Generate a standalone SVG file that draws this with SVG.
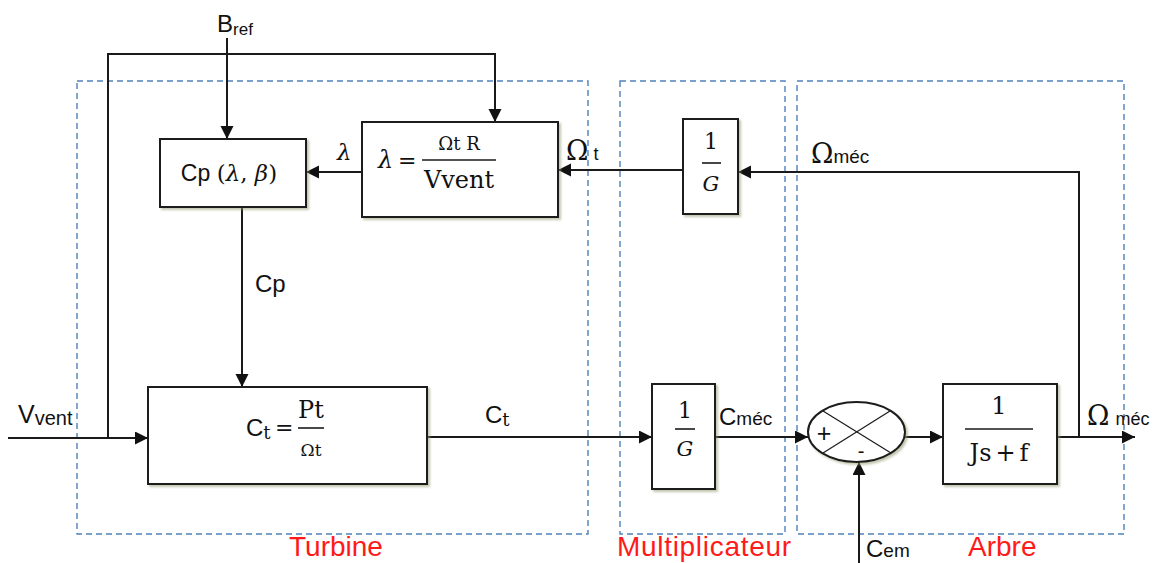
<svg xmlns="http://www.w3.org/2000/svg" width="1160" height="563" viewBox="0 0 1160 563">
<style>
.bg{fill:#ffffff}
.zone{fill:none;stroke:#4f81bd;stroke-width:1.4;stroke-dasharray:6 4}
.blk{fill:#ffffff;stroke:#1a1a1a;stroke-width:2;filter:url(#sh)}
.ln{fill:none;stroke:#1a1a1a;stroke-width:2}
.thin{fill:none;stroke:#1a1a1a;stroke-width:1.2}
.fr{stroke:#1a1a1a;stroke-width:1.6}
.sans{font-family:"Liberation Sans",Arial,sans-serif;fill:#111}
.ser{font-family:"DejaVu Serif","Liberation Serif",serif;fill:#111}
.it{font-style:italic}
.red{font-family:"Liberation Sans",Arial,sans-serif;fill:#ff1a1a;font-size:28px}
</style>
<defs>
<filter id="sh" x="-10%" y="-10%" width="130%" height="130%">
<feDropShadow dx="2" dy="2" stdDeviation="1" flood-color="#8e9a6e" flood-opacity="0.55"/>
</filter>
<marker id="ar" markerUnits="userSpaceOnUse" markerWidth="14" markerHeight="14" refX="13" refY="6.5" orient="auto">
<path d="M0,0 L13,6.5 L0,13 z" fill="#111"/>
</marker>
</defs>
<rect class="bg" x="0" y="0" width="1160" height="563"/>

<g id="zones">
<rect class="zone" x="77" y="81" width="511" height="453"/>
<rect class="zone" x="620" y="81" width="165" height="453"/>
<rect class="zone" x="797" y="81" width="327" height="453"/>
<text class="red" x="289" y="556">Turbine</text>
<text class="red" x="617" y="556" textLength="174">Multiplicateur</text>
<text class="red" x="968" y="556">Arbre</text>
</g>

<g id="connectors">
<path class="ln" d="M227,38 V139" marker-end="url(#ar)"/>
<path class="ln" d="M108,438 V54 H495 V122" marker-end="url(#ar)"/>
<path class="ln" d="M362,172 H306" marker-end="url(#ar)"/>
<path class="ln" d="M683,170 H558" marker-end="url(#ar)"/>
<path class="ln" d="M1057,437 H1079 V172 H738" marker-end="url(#ar)"/>
<path class="ln" d="M242,207 V387" marker-end="url(#ar)"/>
<path class="ln" d="M8,438 H148" marker-end="url(#ar)"/>
<path class="ln" d="M427,437 H652" marker-end="url(#ar)"/>
<path class="ln" d="M715,437 H808" marker-end="url(#ar)"/>
<path class="ln" d="M905,437 H943" marker-end="url(#ar)"/>
<path class="ln" d="M859,563 V462" marker-end="url(#ar)"/>
<path class="ln" d="M1057,437 H1135" marker-end="url(#ar)"/>
</g>

<g id="labels">
<text class="sans" x="217" y="32" font-size="24">B<tspan font-size="17" dy="3">ref</tspan></text>
<text class="sans" x="18" y="423" font-size="25">V<tspan font-size="20" dy="2">vent</tspan></text>
<text class="ser it" x="337" y="160" font-size="23">λ</text>
<text class="ser" x="566" y="160" font-size="27">Ω<tspan class="sans" font-size="18" dx="5">t</tspan></text>
<text class="ser" x="811" y="163" font-size="27">Ω<tspan class="sans" font-size="19">méc</tspan></text>
<text class="sans" x="255" y="292" font-size="24">Cp</text>
<text class="sans" x="485" y="423" font-size="24">C<tspan class="ser" font-size="18" dy="3">t</tspan></text>
<text class="sans" x="719" y="425" font-size="24">C<tspan font-size="19">méc</tspan></text>
<text class="sans" x="866" y="557" font-size="24">C<tspan font-size="19">em</tspan></text>
<text class="ser" x="1087" y="425" font-size="27">Ω<tspan class="sans" font-size="18" dx="6">méc</tspan></text>
</g>

<g id="node-cp">
<rect class="blk" x="160" y="139" width="146" height="68"/>
<text x="229" y="181" text-anchor="middle" font-size="23"><tspan class="sans">Cp </tspan><tspan class="ser">(</tspan><tspan class="ser it">λ</tspan><tspan class="ser">, </tspan><tspan class="ser it">β</tspan><tspan class="ser">)</tspan></text>
</g>

<g id="node-lambda">
<rect class="blk" x="362" y="122" width="196" height="95"/>
<text class="ser it" x="378" y="168" font-size="24">λ</text>
<text class="ser" x="398" y="168" font-size="22">=</text>
<line class="fr" x1="422" y1="160" x2="496" y2="160"/>
<text class="ser" x="459" y="150" font-size="18" text-anchor="middle">Ωt R</text>
<text class="ser" x="459" y="188" font-size="24" text-anchor="middle">Vvent</text>
</g>

<g id="node-g-top">
<rect class="blk" x="683" y="119" width="55" height="95"/>
<text class="ser" x="711" y="149" font-size="22" text-anchor="middle">1</text>
<line class="fr" x1="702" y1="163" x2="721" y2="163"/>
<text class="ser it" x="711" y="191" font-size="21" text-anchor="middle">G</text>
</g>

<g id="node-ct">
<rect class="blk" x="148" y="387" width="279" height="97"/>
<text class="sans" x="246" y="436" font-size="24">C<tspan class="ser" font-size="18" dy="3">t</tspan></text>
<text class="ser" x="275" y="435" font-size="22">=</text>
<line class="fr" x1="298" y1="428" x2="324" y2="428"/>
<text class="ser" x="311" y="418" font-size="24" text-anchor="middle">Pt</text>
<text class="ser" x="311" y="456" font-size="17" text-anchor="middle">Ωt</text>
</g>

<g id="node-g-bottom">
<rect class="blk" x="652" y="384" width="63" height="105"/>
<text class="ser" x="685" y="418" font-size="22" text-anchor="middle">1</text>
<line class="fr" x1="675" y1="429" x2="695" y2="429"/>
<text class="ser it" x="685" y="456" font-size="21" text-anchor="middle">G</text>
</g>

<g id="node-sum">
<ellipse class="blk" cx="856.5" cy="432" rx="48.5" ry="30"/>
<line class="thin" x1="823" y1="411" x2="891" y2="453"/>
<line class="thin" x1="890" y1="411" x2="823" y2="453"/>
<text class="sans" x="824" y="442" font-size="25" text-anchor="middle">+</text>
<text class="sans" x="861" y="458" font-size="20" text-anchor="middle">-</text>
</g>

<g id="node-shaft">
<rect class="blk" x="943" y="384" width="114" height="100"/>
<text class="ser" x="999" y="414" font-size="24" text-anchor="middle">1</text>
<line class="fr" x1="965" y1="429" x2="1033" y2="429"/>
<text class="ser" x="999" y="461" font-size="24" text-anchor="middle">Js<tspan dx="4">+</tspan><tspan dx="4">f</tspan></text>
</g>
</svg>
